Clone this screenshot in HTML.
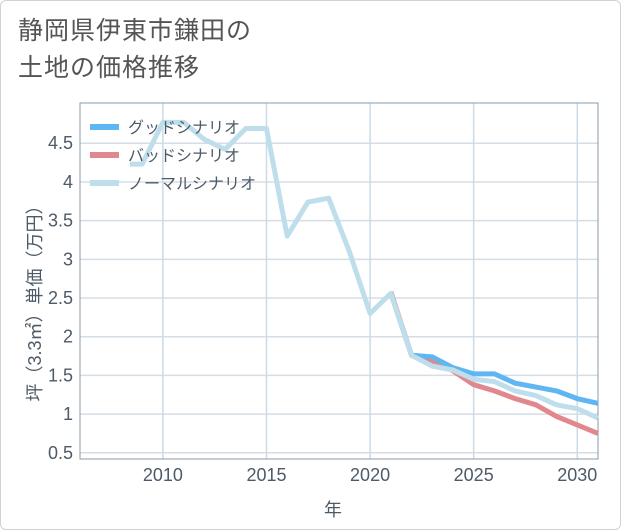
<!DOCTYPE html>
<html><head><meta charset="utf-8"><style>
body{margin:0;background:#fff;font-family:"Liberation Sans","Noto Sans CJK JP",sans-serif;}
#wrap{position:relative;width:619px;height:528px;border:1px solid #ccd3da;border-radius:6px;background:#fff;}
#title{position:absolute;left:17px;top:12px;font-size:25px;line-height:37px;color:#555;letter-spacing:1px;}
svg{position:absolute;left:0;top:0}
</style></head><body>
<div id="wrap">
<div id="title">静岡県伊東市鎌田の<br>土地の価格推移</div>
<svg id="c" width="621" height="530"></svg>
</div>
<script>
const xTicks=[2010,2015,2020,2025,2030];
const yTicks=[0.5,1,1.5,2,2.5,3,3.5,4,4.5];
const yTickLabels=["0.5","1","1.5","2","2.5","3","3.5","4","4.5"];
const normalYears=[2008.4,2009,2010,2011,2012,2013,2014,2015,2016,2017,2018,2019,2020,2021,2022,2023,2024,2025,2026,2027,2028,2029,2030,2031];
const normalVals=[4.23,4.23,4.77,4.77,4.55,4.42,4.69,4.69,3.3,3.74,3.79,3.1,2.3,2.56,1.76,1.62,1.57,1.45,1.42,1.3,1.24,1.12,1.07,0.95];
const forecastYears=[2021,2022,2023,2024,2025,2026,2027,2028,2029,2030,2031];
const goodVals=[2.56,1.76,1.74,1.6,1.52,1.52,1.4,1.35,1.3,1.2,1.14];
const badVals=[2.58,1.76,1.68,1.56,1.38,1.3,1.2,1.12,0.97,0.86,0.75];
const L=79,R=597,T=102,B=458,xMin=2006,xMax=2031,yMin=0.42,yMax=5.02;
const X=v=>L+(v-xMin)/(xMax-xMin)*(R-L);
const Y=v=>B-(v-yMin)/(yMax-yMin)*(B-T);
const svg=document.getElementById('c');const NS='http://www.w3.org/2000/svg';
const TXT='#4d5a68';
function mk(t,a,p){const e=document.createElementNS(NS,t);for(const k in a)e.setAttribute(k,a[k]);(p||svg).appendChild(e);return e;}
const bg=mk('rect',{x:L,y:T,width:R-L,height:B-T,fill:'#fff',stroke:'#8a98a8','stroke-width':1});


yTicks.forEach((v,i)=>{
 const g=mk('line',{x1:L,x2:R,y1:Y(v),y2:Y(v),stroke:'#d5dde5','stroke-width':1.5});
 
 
 const t=mk('text',{x:L-7,y:Y(v)+6,'text-anchor':'end','font-size':18,fill:TXT});t.textContent=yTickLabels[i];
 
 
});
xTicks.forEach(v=>{
 const g=mk('line',{x1:X(v),x2:X(v),y1:T,y2:B,stroke:'#c9dce8','stroke-width':1.5});
 
 
 const t=mk('text',{x:X(v),y:B+22,'text-anchor':'middle','font-size':18,fill:TXT});t.textContent=v;
 
 
});
mk('rect',{x:L,y:T,width:R-L,height:B-T,fill:'none',stroke:'#8a98a8','stroke-width':1});
function line(xs,ys,col,name){
 const p=mk('polyline',{points:xs.map((x,i)=>X(x)+','+Y(ys[i])).join(' '),fill:'none',stroke:col,'stroke-width':5,'stroke-linejoin':'round'});
 
 
}
line(forecastYears,badVals,'#e0888e','bad-scenario-line');
line(forecastYears,goodVals,'#5fb6f2','good-scenario-line');
line(normalYears,normalVals,'#bfdeeb','normal-scenario-line');
const leg=[['グッドシナリオ','#5fb6f2'],['バッドシナリオ','#e0888e'],['ノーマルシナリオ','#bfdeeb']];
leg.forEach((l,i)=>{
 const y=126+i*28;
 const r=mk('line',{x1:89,x2:118,y1:y,y2:y,stroke:l[1],'stroke-width':6});
 
 
 const t=mk('text',{x:127,y:y+6,'font-size':16,fill:TXT});t.textContent=l[0];
 
 
});
const xt=mk('text',{x:332,y:515,'text-anchor':'middle','font-size':18,fill:TXT});xt.textContent='年';


const yt=mk('text',{x:0,y:0,'text-anchor':'middle','font-size':18,fill:TXT,transform:'translate(40,298) rotate(-90)'});yt.textContent='坪（3.3㎡）単価（万円）';


</script>
</body></html>
